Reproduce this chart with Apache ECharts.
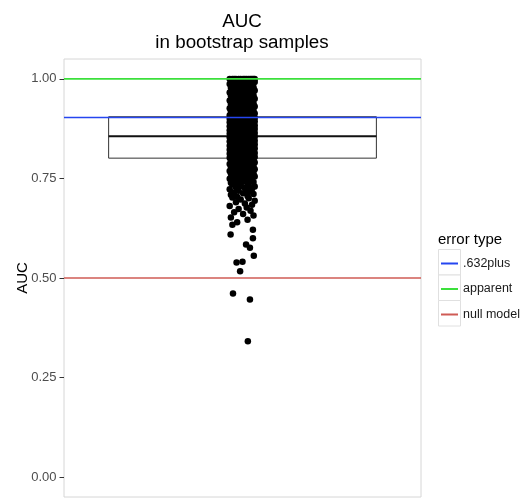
<!DOCTYPE html>
<html>
<head>
<meta charset="utf-8">
<script src="https://cdn.jsdelivr.net/npm/echarts@6/dist/echarts.min.js"></script>
<style>
  html, body { margin: 0; padding: 0; background: #ffffff; }
  #chart { width: 521px; height: 498px; }
</style>
</head>
<body>
<div id="chart"></div>
<script>
// Reference levels of AUC by error type
const errorTypes = ['.632plus', 'apparent', 'null model'];
const errorValues = [0.903, 1.0, 0.5];
const errorColors = ['#2546f0', '#3ce03c', '#cf5b55'];

// Box summary of the bootstrap AUCs: lower hinge, median, upper hinge
const boxStats = [0.801, 0.856, 0.905];

const yTicks = [0, 0.25, 0.5, 0.75, 1];

// Bootstrap AUC estimates (main body of the distribution)
const bodyAuc = [
  1.000, 1.000, 1.000, 1.000, 1.000, 1.000, 1.000, 1.000, 1.000, 1.000, 1.000, 1.000, 1.000, 1.000,
  0.998, 0.997, 0.997, 0.995, 0.994, 0.993, 0.992, 0.990, 0.989, 0.989, 0.987, 0.986, 0.984, 0.983,
  0.982, 0.981, 0.979, 0.978, 0.977, 0.976, 0.974, 0.973, 0.972, 0.971, 0.970, 0.968, 0.967, 0.966,
  0.965, 0.963, 0.962, 0.961, 0.960, 0.959, 0.958, 0.956, 0.955, 0.954, 0.953, 0.951, 0.950, 0.949,
  0.948, 0.947, 0.946, 0.944, 0.943, 0.942, 0.941, 0.940, 0.939, 0.937, 0.936, 0.935, 0.934, 0.933,
  0.932, 0.931, 0.929, 0.928, 0.927, 0.926, 0.925, 0.924, 0.923, 0.922, 0.921, 0.920, 0.919, 0.918,
  0.917, 0.916, 0.915, 0.914, 0.913, 0.912, 0.911, 0.910, 0.909, 0.909, 0.908, 0.907, 0.907, 0.906,
  0.906, 0.905,
  0.904, 0.904, 0.903, 0.903, 0.903, 0.902, 0.901, 0.901, 0.900, 0.900, 0.899, 0.899, 0.898, 0.897,
  0.897, 0.897, 0.896, 0.895, 0.895, 0.894, 0.894, 0.893, 0.893, 0.892, 0.891, 0.891, 0.891, 0.890,
  0.889, 0.889, 0.888, 0.888, 0.887, 0.886, 0.886, 0.885, 0.885, 0.885, 0.884, 0.883, 0.883, 0.882,
  0.882, 0.881, 0.880, 0.880, 0.879, 0.879, 0.878, 0.878, 0.877, 0.876, 0.876, 0.876, 0.875, 0.874,
  0.874, 0.873, 0.873, 0.872, 0.871, 0.871, 0.870, 0.870, 0.869, 0.869, 0.868, 0.867, 0.867, 0.867,
  0.866, 0.865, 0.865, 0.864, 0.864, 0.863, 0.862, 0.862, 0.862, 0.861, 0.860, 0.860, 0.859, 0.859,
  0.858, 0.857, 0.857, 0.857, 0.856, 0.856,
  0.855, 0.855, 0.854, 0.853, 0.853, 0.852, 0.852, 0.851, 0.850, 0.850, 0.849, 0.849, 0.848, 0.847,
  0.847, 0.846, 0.846, 0.845, 0.844, 0.844, 0.843, 0.843, 0.842, 0.841, 0.841, 0.840, 0.840, 0.839,
  0.838, 0.838, 0.837, 0.837, 0.836, 0.835, 0.835, 0.834, 0.834, 0.833, 0.832, 0.832, 0.831, 0.831,
  0.830, 0.829, 0.829, 0.828, 0.828, 0.827, 0.826, 0.826, 0.825, 0.825, 0.824, 0.823, 0.823, 0.822,
  0.822, 0.821, 0.820, 0.820, 0.819, 0.819, 0.818, 0.817, 0.817, 0.816, 0.816, 0.815, 0.814, 0.814,
  0.813, 0.813, 0.812, 0.811, 0.811, 0.810, 0.810, 0.809, 0.808, 0.808, 0.807, 0.807, 0.806, 0.805,
  0.805, 0.804, 0.804, 0.803, 0.802, 0.802, 0.801, 0.801,
  0.800, 0.799, 0.798, 0.797, 0.796, 0.795, 0.794, 0.793, 0.792, 0.791, 0.790, 0.789, 0.788, 0.787,
  0.786, 0.785, 0.784, 0.783, 0.782, 0.781, 0.780, 0.779, 0.778, 0.777, 0.776, 0.775, 0.774, 0.773,
  0.772, 0.771, 0.770, 0.769, 0.768, 0.767, 0.766, 0.765, 0.764, 0.763, 0.762, 0.761, 0.760, 0.758,
  0.757, 0.756, 0.755, 0.753, 0.752, 0.751, 0.749, 0.748, 0.747, 0.745, 0.744, 0.742, 0.741, 0.739,
  0.738, 0.736, 0.735, 0.733, 0.731, 0.730, 0.728, 0.726, 0.724, 0.723, 0.721,
  0.719, 0.717, 0.715, 0.713, 0.711, 0.709, 0.706, 0.704, 0.702, 0.700,
  0.697, 0.694, 0.690, 0.687, 0.684, 0.681, 0.677, 0.673, 0.669, 0.665, 0.661, 0.657, 0.652, 0.646,
  0.640, 0.634
];
// Horizontal jitter offsets applied in turn to the body points
const bodyJitter = [-0.034, 0.021, -0.006, 0.041, -0.022, 0.008, 0.032, -0.043, 0.014,
                    -0.013, 0.027, -0.028, 0.002, 0.037, -0.039, 0.017, -0.018];

// Lowest bootstrap AUCs, with their jitter offsets
const tailAuc =    [0.621, 0.609, 0.600, 0.584, 0.576, 0.556, 0.541, 0.539, 0.517, 0.461, 0.446, 0.341];
const tailJitter = [0.035, -0.040, 0.035, 0.012, 0.025, 0.038, 0.000, -0.020, -0.008, -0.032, 0.025, 0.018];

const points = bodyAuc.map((v, i) => [bodyJitter[i % bodyJitter.length], v])
  .concat(tailAuc.map((v, i) => [tailJitter[i], v]));

const FONT = '"Liberation Sans", Arial, Helvetica, sans-serif';
const chart = echarts.init(document.getElementById('chart'), null, { renderer: 'canvas' });

const lineSeries = errorTypes.map((name, i) => ({
  name: name,
  type: 'line',
  data: [[-0.6, errorValues[i]], [0.6, errorValues[i]]],
  symbol: 'none',
  lineStyle: { color: errorColors[i], width: 1.6 },
  itemStyle: { color: errorColors[i] },
  z: 5,
  silent: true
}));

// legend key boxes
const keyBoxes = errorTypes.map((n, i) => ({
  type: 'rect',
  shape: { x: 438.5, y: 249.5 + i * 25.5, width: 22, height: 25.5 },
  style: { fill: '#ffffff', stroke: '#e0e0e0', lineWidth: 1 },
  z: -1,
  silent: true
}));

chart.setOption({
  animation: false,
  backgroundColor: '#ffffff',
  title: [{
    text: 'AUC\nin bootstrap samples',
    left: 242,
    top: 11,
    padding: 0,
    textAlign: 'center',
    textStyle: { fontFamily: FONT, fontSize: 18.8, fontWeight: 'normal', color: '#000', lineHeight: 21.5, align: 'center' }
  }, {
    text: 'error type',
    left: 438,
    top: 232.5,
    padding: 0,
    textStyle: { fontFamily: FONT, fontSize: 15, fontWeight: 'normal', color: '#000' }
  }],
  grid: { left: 64, top: 59, width: 357, height: 438, show: true, borderColor: '#d6d6d6', borderWidth: 1, backgroundColor: '#fff', containLabel: false },
  legend: {
    data: errorTypes,
    orient: 'vertical',
    left: 441,
    top: 256,
    padding: 0,
    itemWidth: 17,
    itemHeight: 2,
    itemGap: 10.5,
    icon: 'rect',
    textStyle: { fontFamily: FONT, fontSize: 12.5, color: '#1a1a1a', lineHeight: 15 },
    selectedMode: false
  },
  xAxis: {
    type: 'value',
    min: -0.6,
    max: 0.6,
    show: false
  },
  yAxis: {
    type: 'value',
    min: -0.05,
    max: 1.05,
    name: 'AUC',
    nameLocation: 'middle',
    nameRotate: 90,
    nameGap: 34,
    nameMoveOverlap: false,
    nameTextStyle: { fontFamily: FONT, fontSize: 15, color: '#000' },
    axisLine: { show: false, onZero: false },
    axisTick: { show: true, length: 4.5, customValues: yTicks, lineStyle: { color: '#333', width: 1 } },
    axisLabel: {
      customValues: yTicks,
      margin: 7.5,
      fontFamily: FONT,
      fontSize: 13,
      color: '#4d4d4d',
      formatter: v => v.toFixed(2)
    },
    splitLine: { show: false }
  },
  graphic: keyBoxes,
  series: [{
    name: 'box',
    type: 'custom',
    z: 1,
    silent: true,
    data: [[0, boxStats[0], boxStats[1], boxStats[2]]],
    renderItem: function (params, api) {
      const half = 0.45;
      const tl = api.coord([-half, api.value(3)]);
      const br = api.coord([half, api.value(1)]);
      const ml = api.coord([-half, api.value(2)]);
      const mr = api.coord([half, api.value(2)]);
      return {
        type: 'group',
        children: [{
          type: 'rect',
          shape: { x: tl[0], y: tl[1], width: br[0] - tl[0], height: br[1] - tl[1] },
          style: { fill: '#ffffff', stroke: '#333333', lineWidth: 1 }
        }, {
          type: 'line',
          shape: { x1: ml[0], y1: ml[1], x2: mr[0], y2: mr[1] },
          style: { stroke: '#111111', lineWidth: 2 }
        }]
      };
    }
  }, {
    name: 'samples',
    type: 'scatter',
    data: points,
    symbol: 'circle',
    symbolSize: 6.5,
    itemStyle: { color: '#000000', opacity: 1 },
    z: 3,
    silent: true
  }].concat(lineSeries)
});
</script>
</body>
</html>
